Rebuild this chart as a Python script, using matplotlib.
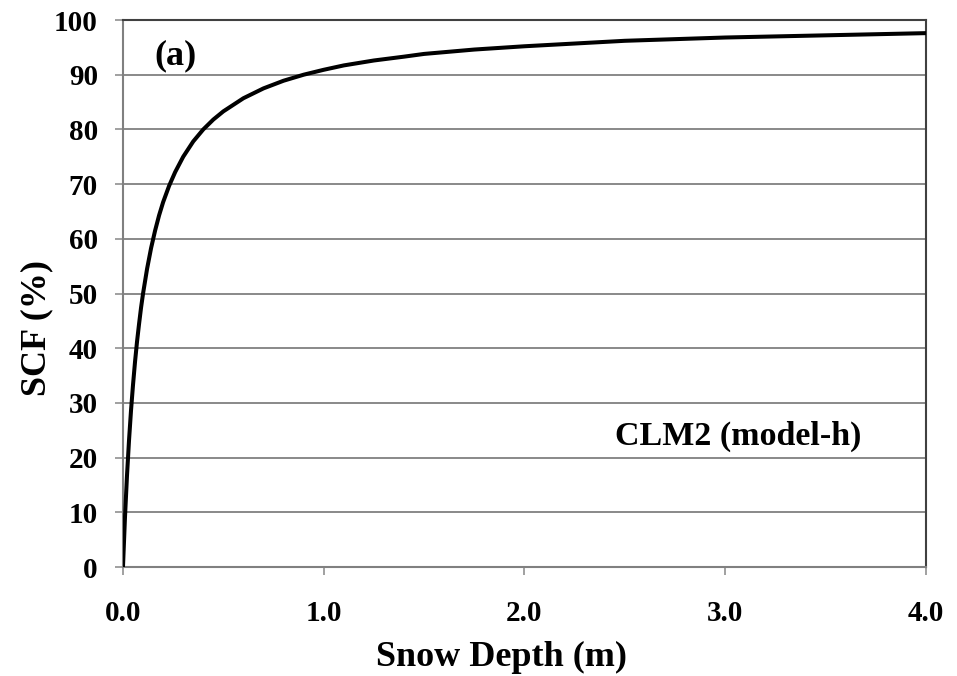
import matplotlib.pyplot as plt

# Valores
depth = [0.0, 0.01, 0.02, 0.03, 0.04, 0.05, 0.06, 0.07, 0.08, 0.09, 0.1, 0.12, 0.14,
         0.16, 0.18, 0.2, 0.23, 0.26, 0.3, 0.35, 0.4, 0.45, 0.5, 0.6, 0.7, 0.8, 0.9,
         1.0, 1.1, 1.25, 1.4, 1.5, 1.75, 2.0, 2.25, 2.5, 2.75, 3.0, 3.5, 4.0]
scf = [0.0, 9.1, 16.7, 23.1, 28.6, 33.3, 37.5, 41.2, 44.4, 47.4, 50.0, 54.5, 58.3,
       61.5, 64.3, 66.7, 69.7, 72.2, 75.0, 77.8, 80.0, 81.8, 83.3, 85.7, 87.5, 88.9, 90.0,
       90.9, 91.7, 92.6, 93.3, 93.8, 94.6, 95.2, 95.7, 96.2, 96.5, 96.8, 97.2, 97.6]
xticks = [0.0, 1.0, 2.0, 3.0, 4.0]
yticks = list(range(0, 101, 10))

plt.rcParams['font.family'] = ['Liberation Serif', 'DejaVu Serif']
plt.rcParams['font.weight'] = 'bold'

fig = plt.figure(figsize=(9.57, 6.76), dpi=100)
ax = fig.add_axes([0.1285, 0.1612, 0.839, 0.8092])

ax.plot(depth, scf, color='black', lw=2.9, zorder=3, solid_joinstyle='round')

ax.set_xlim(0, 4)
ax.set_ylim(0, 100)
ax.set_xticks(xticks)
ax.set_xticklabels(['%.1f' % v for v in xticks])
ax.set_yticks(yticks)
ax.grid(axis='y', color='#808080', lw=1.3)
ax.set_axisbelow(True)
ax.tick_params(axis='both', direction='out', length=6, width=1.2, color='#909090',
               labelsize=21)
ax.tick_params(axis='y', pad=12)
ax.tick_params(axis='x', pad=18)
for s in ['left', 'bottom']:
    ax.spines[s].set_color('#808080')
    ax.spines[s].set_linewidth(1.5)
for s in ['top', 'right']:
    ax.spines[s].set_color('#404040')
    ax.spines[s].set_linewidth(1.5)

ax.set_xlabel('Snow Depth (m)', fontsize=26, fontweight='bold', va='center')
ax.set_ylabel('SCF (%)', fontsize=26, fontweight='bold', va='center')
ax.xaxis.set_label_coords(0.472, -0.166)
ax.yaxis.set_label_coords(-0.107, 0.437)

ax.text(0.264, 93.4, '(a)', fontsize=26, fontweight='bold', va='center', ha='center')
ax.text(3.063, 23.8, 'CLM2 (model-h)', fontsize=24.5, fontweight='bold',
        va='center', ha='center')

fig.savefig('out.png', dpi=100)
